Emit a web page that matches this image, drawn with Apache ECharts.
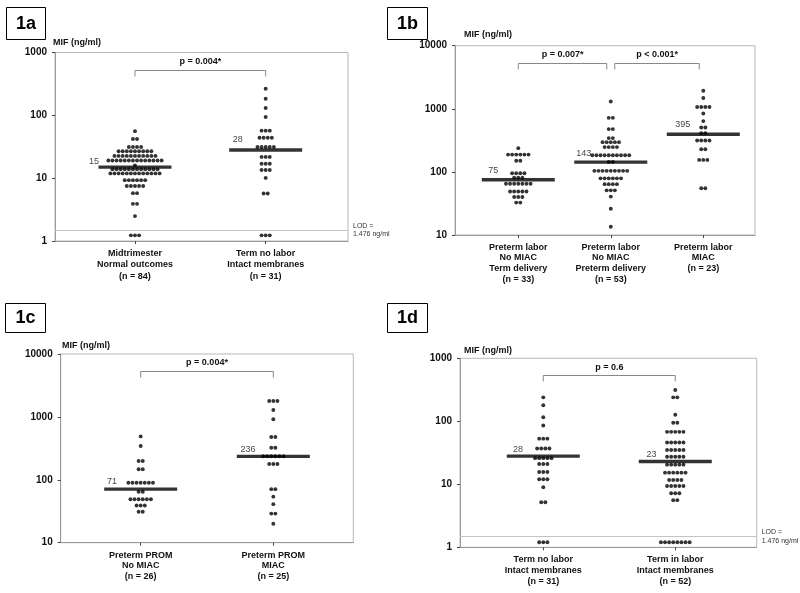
<!DOCTYPE html>
<html><head><meta charset="utf-8">
<script src="https://cdn.jsdelivr.net/npm/echarts@6/dist/echarts.min.js"></script>
<style>html,body{margin:0;padding:0;background:#fff}#c{width:800px;height:593px}</style>
</head><body><div id="c"></div>
<script>
// ---------- DATA ----------
const cats1a = ['Midtrimester\nNormal outcomes\n(n = 84)', 'Term no labor\nIntact membranes\n(n = 31)'];
const cats1b = ['Preterm labor\nNo MIAC\nTerm delivery\n(n = 33)', 'Preterm labor\nNo MIAC\nPreterm delivery\n(n = 53)', 'Preterm labor\nMIAC\n(n = 23)'];
const cats1c = ['Preterm PROM\nNo MIAC\n(n = 26)', 'Preterm PROM\nMIAC\n(n = 25)'];
const cats1d = ['Term no labor\nIntact membranes\n(n = 31)', 'Term in labor\nIntact membranes\n(n = 52)'];

const yRange1a = [1, 1000];
const yRange1b = [10, 10000];
const yRange1c = [10, 10000];
const yRange1d = [1, 1000];

// dot rows: value of the row, number of dots in the row
const a1Vals = [56, 42, 31.4, 26.8, 22.6, 19.1, 16, 13.9, 11.9, 9.3, 7.5, 5.77, 3.9, 2.49, 1.23];
const a1Counts = [1, 2, 4, 9, 11, 14, 1, 12, 13, 6, 5, 2, 2, 1, 3];
const a2Vals = [265, 184, 131, 94, 57, 44, 31.4, 21.8, 17, 13.5, 10.1, 5.7, 1.23];
const a2Counts = [1, 1, 1, 1, 3, 4, 5, 3, 3, 3, 1, 2, 3];

const b1Vals = [238, 188, 150, 95, 81, 65, 49, 40, 32.6];
const b1Counts = [1, 6, 2, 4, 3, 7, 5, 3, 2];
const b2Vals = [1306, 719, 477, 343, 296, 247, 184, 144, 104, 79, 64, 51, 40.6, 26, 13.5];
const b2Counts = [1, 2, 2, 2, 5, 4, 10, 2, 9, 6, 4, 3, 1, 1, 1];
const b3Vals = [1930, 1480, 1065, 841, 638, 505, 411, 314, 229, 155, 55];
const b3Counts = [1, 1, 4, 1, 1, 2, 2, 4, 2, 3, 2];

const c1Vals = [490, 344, 199, 147, 90, 64.5, 49, 39, 31];
const c1Counts = [1, 1, 2, 2, 7, 2, 6, 3, 2];
const c2Vals = [1790, 1290, 916, 479, 323, 237, 178, 71, 54, 41, 29, 20];
const c2Counts = [3, 1, 1, 2, 2, 6, 3, 2, 1, 1, 2, 1];

const d1Vals = [240, 180, 116, 86, 53, 37, 26, 21, 15.7, 12, 9, 5.2, 1.2];
const d1Counts = [1, 1, 1, 1, 3, 4, 5, 3, 3, 3, 1, 2, 3];
const d2Vals = [314, 240, 127, 95, 68, 46, 35, 27.4, 20.5, 15.3, 11.7, 9.4, 7.2, 5.6, 1.2];
const d2Counts = [1, 2, 1, 2, 5, 5, 5, 5, 5, 6, 4, 5, 3, 2, 8];

const med1a = [15, 28];
const med1b = [75, 143, 395];
const med1c = [71, 236];
const med1d = [28, 23];

const pairs1a = [[1, 2]];  const p1a = ['p = 0.004*'];
const pairs1b = [[1, 2], [2, 3]]; const p1b = ['p = 0.007*', 'p < 0.001*'];
const pairs1c = [[1, 2]];  const p1c = ['p = 0.004*'];
const pairs1d = [[1, 2]];  const p1d = ['p = 0.6'];

const lod = 1.476;
const panelNames = ['1a', '1b', '1c', '1d'];
const yTitle = 'MIF (ng/ml)';

// ---------- LAYOUT / STYLE ----------
const FONT = '"Liberation Sans", Arial, sans-serif';
const DX = 4.1, DOT = 3.9;
const grids = [
  {left: 55, top: 52.5, width: 293, height: 188.5},
  {left: 455, top: 45.7, width: 300, height: 189.3},
  {left: 60.7, top: 354, width: 292.6, height: 188.7},
  {left: 460, top: 358.3, width: 296.7, height: 189}
];
const xRanges = [[0.388, 2.63], [0.316, 3.559], [0.397, 2.603], [0.369, 2.617]];
const xLineH = [11.3, 10.6, 10.7, 11];
const medLabelPos = [
  [[-9.5, -8.7], [3.5, -13]],
  [[6.5, -12], [2, -11], [8.5, -12.8]],
  [[2.7, -10], [3.7, -10]],
  [[6.3, -9.6], [7.7, -9.6]]
];
const bracketInsets = [[[0, 0]], [[0, 4], [4, 4]], [[0, 0]], [[0, 0]]];
const titlePos = [[53, 43], [464, 35], [62, 345.7], [464, 350.7]];
const boxes = [[6, 7, 39, 32], [387, 7, 40, 32], [5, 303, 40, 29], [387, 303, 40, 29]];

const panels = [
  {cats: cats1a, yr: yRange1a, groups: [[a1Vals, a1Counts], [a2Vals, a2Counts]], med: med1a, pairs: pairs1a, p: p1a, lod: true},
  {cats: cats1b, yr: yRange1b, groups: [[b1Vals, b1Counts], [b2Vals, b2Counts], [b3Vals, b3Counts]], med: med1b, pairs: pairs1b, p: p1b, lod: false},
  {cats: cats1c, yr: yRange1c, groups: [[c1Vals, c1Counts], [c2Vals, c2Counts]], med: med1c, pairs: pairs1c, p: p1c, lod: false},
  {cats: cats1d, yr: yRange1d, groups: [[d1Vals, d1Counts], [d2Vals, d2Counts]], med: med1d, pairs: pairs1d, p: p1d, lod: true}
];

function dotData(vals, counts, cat) {
  const out = [];
  vals.forEach((v, i) => {
    const n = counts[i];
    for (let j = 0; j < n; j++) out.push({value: [cat, v], symbolOffset: [(j - (n - 1) / 2) * DX, 0]});
  });
  return out;
}

const option = {animation: false, grid: [], xAxis: [], yAxis: [], series: [], graphic: []};

panels.forEach((pn, k) => {
  option.grid.push(Object.assign({show: true, borderColor: '#b8b8b8', borderWidth: 1}, grids[k]));
  const ticks = pn.cats.map((c, i) => i + 1);
  option.xAxis.push({
    type: 'value', gridIndex: k, min: xRanges[k][0], max: xRanges[k][1],
    axisLine: {show: true, onZero: false, lineStyle: {color: '#999', width: 1}},
    axisTick: {show: true, length: 3, customValues: ticks, lineStyle: {color: '#444'}},
    axisLabel: {customValues: ticks, formatter: v => pn.cats[Math.round(v) - 1] || '',
      fontSize: 9, fontWeight: 'bold', fontFamily: FONT, color: '#111', lineHeight: xLineH[k], margin: 7},
    splitLine: {show: false}
  });
  option.yAxis.push({
    type: 'log', logBase: 10, gridIndex: k, min: pn.yr[0], max: pn.yr[1],
    axisLine: {show: true, lineStyle: {color: '#999', width: 1}},
    axisTick: {show: true, length: 3, lineStyle: {color: '#444'}},
    axisLabel: {formatter: v => String(Math.round(v)), fontSize: 10, fontWeight: 'bold', fontFamily: FONT, color: '#111', margin: 8},
    splitLine: {show: false}, minorTick: {show: false}
  });
  // dots
  let data = [];
  pn.groups.forEach((g, i) => { data = data.concat(dotData(g[0], g[1], i + 1)); });
  const dotSeries = {
    type: 'scatter', xAxisIndex: k, yAxisIndex: k, symbol: 'circle', symbolSize: DOT,
    itemStyle: {color: '#000'}, silent: true, z: 4, data: data
  };
  if (pn.lod) {
    dotSeries.markLine = {
      silent: true, symbol: 'none', animation: false,
      lineStyle: {color: '#c4c4c4', width: 1, type: 'solid'},
      label: {show: true, position: 'end', formatter: 'LOD =\n' + lod + ' ng/ml', fontSize: 7, fontFamily: FONT, color: '#333', distance: 5, lineHeight: 8.5},
      data: [{yAxis: lod}]
    };
  }
  option.series.push(dotSeries);
  // medians
  option.series.push({
    type: 'scatter', xAxisIndex: k, yAxisIndex: k, symbol: 'rect', symbolSize: [73, 3.4],
    itemStyle: {color: '#000'}, silent: true, z: 3,
    label: {show: true, formatter: q => String(q.value[1]), fontSize: 9, fontFamily: FONT, color: '#111'},
    data: pn.med.map((m, i) => ({value: [i + 1, m], label: {show: true, position: medLabelPos[k][i]}}))
  });
  // brackets with p values
  const labels = pn.p, insets = bracketInsets[k];
  option.series.push({
    type: 'custom', xAxisIndex: k, yAxisIndex: k, silent: true, z: 5,
    data: pn.pairs.map(pr => [pr[0], pr[1]]),
    encode: {x: [0, 1]},
    renderItem: function (params, api) {
      const cs = params.coordSys;
      const idx = params.dataIndex;
      const x1 = api.coord([api.value(0), pn.yr[1]])[0] + insets[idx][0];
      const x2 = api.coord([api.value(1), pn.yr[1]])[0] - insets[idx][1];
      const yl = Math.round(cs.y + 17) + 0.5, ye = yl + 6;
      return {type: 'group', children: [
        {type: 'polyline', shape: {points: [[x1, ye], [x1, yl], [x2, yl], [x2, ye]]}, style: {stroke: '#888', fill: null, lineWidth: 1}},
        {type: 'text', style: {text: labels[idx], x: (x1 + x2) / 2, y: cs.y + 9, align: 'center', verticalAlign: 'middle',
          fontSize: 9, fontWeight: 'bold', fontFamily: FONT, fill: '#111'}}
      ]};
    }
  });
  // titles and panel boxes
  option.graphic.push({type: 'text', x: titlePos[k][0], y: titlePos[k][1],
    style: {text: yTitle, fontSize: 9, fontWeight: 'bold', fontFamily: FONT, fill: '#111', verticalAlign: 'middle'}});
  const b = boxes[k];
  option.graphic.push({type: 'rect', shape: {x: b[0] + 0.5, y: b[1] + 0.5, width: b[2], height: b[3]}, style: {fill: '#fff', stroke: '#000', lineWidth: 1}});
  option.graphic.push({type: 'text', x: b[0] + b[2] / 2 + 0.5, y: b[1] + b[3] / 2 + 1,
    style: {text: panelNames[k], fontSize: 18, fontWeight: 'bold', fontFamily: FONT, fill: '#000', align: 'center', verticalAlign: 'middle'}});
});

const chart = echarts.init(document.getElementById('c'), null, {renderer: 'canvas'});
chart.setOption(option);
</script></body></html>
